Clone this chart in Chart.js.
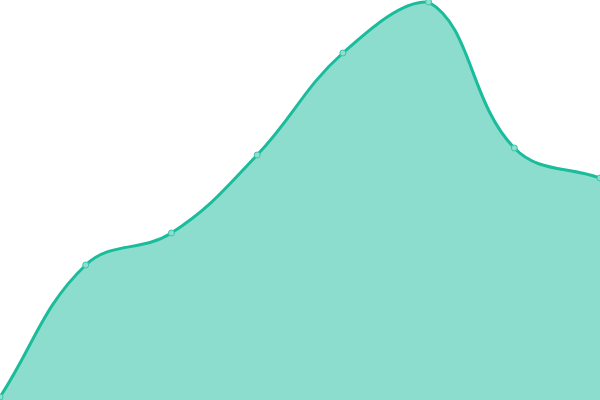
<!DOCTYPE html>
<html><head><meta charset="utf-8">
<script src="https://cdn.jsdelivr.net/npm/chart.js@4/dist/chart.umd.min.js"></script>
<style>html,body{margin:0;padding:0;background:#fff}#wrap{width:600px;height:400px}</style>
</head><body><div id="wrap"><canvas id="c"></canvas></div>
<script>
const categories = ['1','2','3','4','5','6','7','8'];
const values = [3, 135, 167, 245, 347, 398, 252, 222];
new Chart(document.getElementById('c'), {
  type: 'line',
  data: {
    labels: categories,
    datasets: [{
      data: values,
      borderColor: '#1abc9c',
      backgroundColor: 'rgba(26,188,156,0.5)',
      pointBackgroundColor: '#8ddfcf',
      pointBorderColor: '#3cc4a9',
      pointRadius: 3,
      pointBorderWidth: 1,
      borderWidth: 3,
      tension: 0.4,
      fill: 'start'
    }]
  },
  options: {
    responsive: true,
    maintainAspectRatio: false,
    animation: false,
    layout: {padding: 0, autoPadding: false},
    plugins: {legend: {display: false}, tooltip: {enabled: false}},
    scales: {
      x: {display: false},
      y: {display: false, min: 0, max: 400}
    }
  }
});
</script></body></html>
